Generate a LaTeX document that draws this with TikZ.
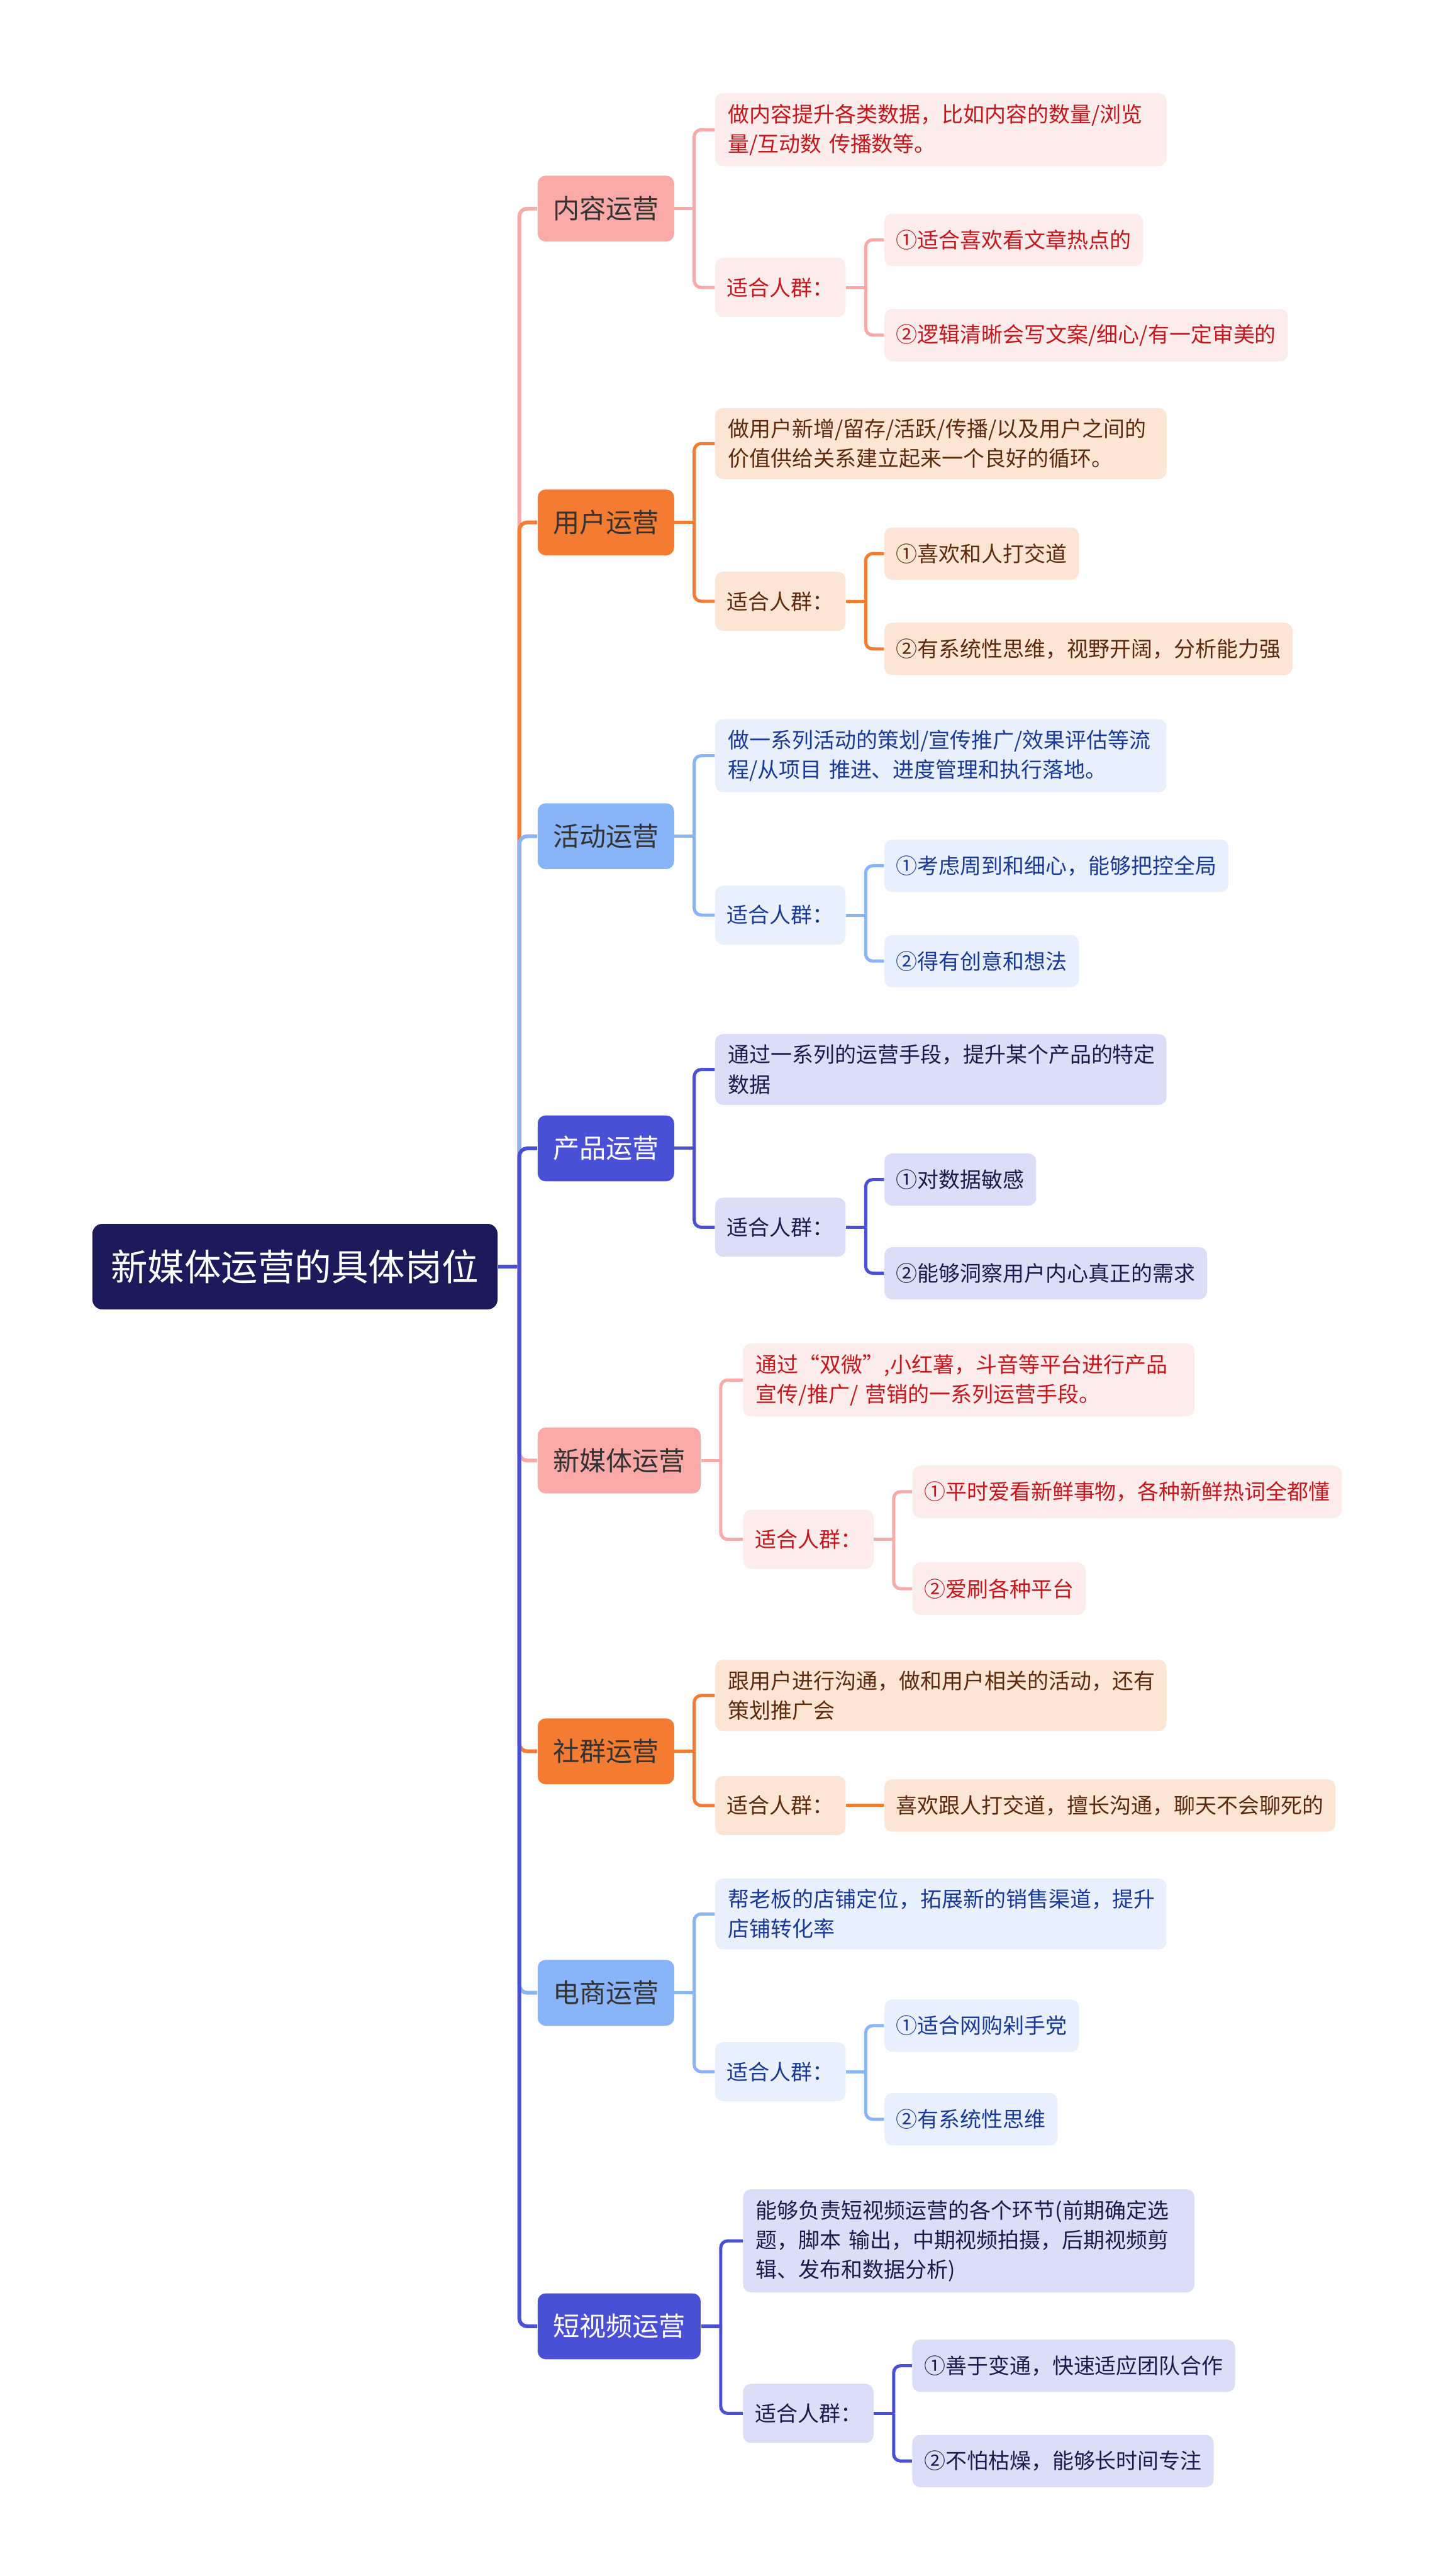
\documentclass[tikz,border=0pt]{standalone}
\usepackage{fontspec}
\setmainfont{Noto Sans CJK SC}
\usepackage{tikz}
\usetikzlibrary{positioning}

\definecolor{rootblue}{HTML}{1C1A5B}
\definecolor{darktext}{HTML}{333333}
\definecolor{pinkmain}{HTML}{F8A9A8}
\definecolor{pinklight}{HTML}{FDECEC}
\definecolor{pinktext}{HTML}{C8161D}
\definecolor{orangemain}{HTML}{F47B32}
\definecolor{orangelight}{HTML}{FDE5D6}
\definecolor{orangetext}{HTML}{5E2A0E}
\definecolor{skymain}{HTML}{8AB4F8}
\definecolor{skylight}{HTML}{E8F0FE}
\definecolor{skytext}{HTML}{1A3A9A}
\definecolor{indigomain}{HTML}{4A50D6}
\definecolor{indigolight}{HTML}{DCDEF7}
\definecolor{indigotext}{HTML}{1B1B4D}

\begin{document}
\begin{tikzpicture}[x=0.2919mm, y=-0.2919mm,
  rootbox/.style={rounded corners=5pt, fill=rootblue, text=white, font=\fontsize{18.6}{22}\selectfont, inner xsep=0.33cm, minimum height=1.52cm, anchor=west},
  topicbox/.style={rounded corners=4pt, text=darktext, font=\fontsize{13.4}{16}\selectfont, inner xsep=0.27cm, minimum height=1.17cm, anchor=west},
  descbox/.style={rounded corners=4pt, font=\fontsize{10.8}{15}\selectfont, text width=7.56cm, align=left, inner xsep=0.23cm, inner ysep=0.19cm, anchor=west},
  crowdbox/.style={rounded corners=4pt, font=\fontsize{10.8}{13}\selectfont, inner xsep=0.21cm, minimum height=1.05cm, anchor=west},
  itembox/.style={rounded corners=4pt, font=\fontsize{10.8}{13}\selectfont, inner xsep=0.21cm, minimum height=0.93cm, anchor=west},
  pinkleaf/.style={fill=pinklight, text=pinktext},
  orangeleaf/.style={fill=orangelight, text=orangetext},
  skyleaf/.style={fill=skylight, text=skytext},
  indigoleaf/.style={fill=indigolight, text=indigotext},
  trunk/.style={line width=1.9pt, rounded corners=4pt},
  twig/.style={line width=1.6pt, rounded corners=3.5pt}]
\path[use as bounding box, fill=white] (0,0) rectangle (877,1568);

\node[rootbox] (root) at (56,771) {新媒体运营的具体岗位};

% 内容运营
\node[topicbox, fill=pinkmain] (nr) at (327,127) {内容运营};
\node[descbox, pinkleaf] (nr-d) at (435,79) {做内容提升各类数据，比如内容的数量/浏览\\量/互动数 传播数等。};
\node[crowdbox, pinkleaf] (nr-c) at (435,175) {适合人群：};
\node[itembox, pinkleaf] (nr-1) at (538,146) {①适合喜欢看文章热点的};
\node[itembox, pinkleaf] (nr-2) at (538,204) {②逻辑清晰会写文案/细心/有一定审美的};

% 用户运营
\node[topicbox, fill=orangemain] (yh) at (327,318) {用户运营};
\node[descbox, orangeleaf] (yh-d) at (435,270) {做用户新增/留存/活跃/传播/以及用户之间的\\价值供给关系建立起来一个良好的循环。};
\node[crowdbox, orangeleaf] (yh-c) at (435,366) {适合人群：};
\node[itembox, orangeleaf] (yh-1) at (538,337) {①喜欢和人打交道};
\node[itembox, orangeleaf] (yh-2) at (538,395) {②有系统性思维，视野开阔，分析能力强};

% 活动运营
\node[topicbox, fill=skymain] (hd) at (327,509) {活动运营};
\node[descbox, skyleaf] (hd-d) at (435,460) {做一系列活动的策划/宣传推广/效果评估等流\\程/从项目 推进、进度管理和执行落地。};
\node[crowdbox, skyleaf] (hd-c) at (435,557) {适合人群：};
\node[itembox, skyleaf] (hd-1) at (538,527) {①考虑周到和细心，能够把控全局};
\node[itembox, skyleaf] (hd-2) at (538,585) {②得有创意和想法};

% 产品运营
\node[topicbox, fill=indigomain, text=white] (cp) at (327,699) {产品运营};
\node[descbox, indigoleaf] (cp-d) at (435,651) {通过一系列的运营手段，提升某个产品的特定\\数据};
\node[crowdbox, indigoleaf] (cp-c) at (435,747) {适合人群：};
\node[itembox, indigoleaf] (cp-1) at (538,718) {①对数据敏感};
\node[itembox, indigoleaf] (cp-2) at (538,775) {②能够洞察用户内心真正的需求};

% 新媒体运营
\node[topicbox, fill=pinkmain] (xm) at (327,889) {新媒体运营};
\node[descbox, pinkleaf] (xm-d) at (452,840) {通过“双微”,小红薯，斗音等平台进行产品\\宣传/推广/ 营销的一系列运营手段。};
\node[crowdbox, pinkleaf] (xm-c) at (452,937) {适合人群：};
\node[itembox, pinkleaf] (xm-1) at (555,908) {①平时爱看新鲜事物，各种新鲜热词全都懂};
\node[itembox, pinkleaf] (xm-2) at (555,967) {②爱刷各种平台};

% 社群运营
\node[topicbox, fill=orangemain] (sq) at (327,1066) {社群运营};
\node[descbox, orangeleaf] (sq-d) at (435,1032) {跟用户进行沟通，做和用户相关的活动，还有\\策划推广会};
\node[crowdbox, orangeleaf] (sq-c) at (435,1099) {适合人群：};
\node[itembox, orangeleaf] (sq-1) at (538,1099) {喜欢跟人打交道，擅长沟通，聊天不会聊死的};

% 电商运营
\node[topicbox, fill=skymain] (ds) at (327,1213) {电商运营};
\node[descbox, skyleaf] (ds-d) at (435,1165) {帮老板的店铺定位，拓展新的销售渠道，提升\\店铺转化率};
\node[crowdbox, skyleaf] (ds-c) at (435,1261) {适合人群：};
\node[itembox, skyleaf] (ds-1) at (538,1233) {①适合网购剁手党};
\node[itembox, skyleaf] (ds-2) at (538,1290) {②有系统性思维};

% 短视频运营
\node[topicbox, fill=indigomain, text=white] (dsp) at (327,1416) {短视频运营};
\node[descbox, indigoleaf] (dsp-d) at (452,1364) {能够负责短视频运营的各个环节(前期确定选\\题，脚本 输出，中期视频拍摄，后期视频剪\\辑、发布和数据分析)};
\node[crowdbox, indigoleaf] (dsp-c) at (452,1469) {适合人群：};
\node[itembox, indigoleaf] (dsp-1) at (555,1440) {①善于变通，快速适应团队合作};
\node[itembox, indigoleaf] (dsp-2) at (555,1498) {②不怕枯燥，能够长时间专注};

% connectors
\draw[trunk, indigomain] (root.east) -- ++(13,0) coordinate (hub);
\foreach \b/\col in {nr/pinkmain, yh/orangemain, hd/skymain, cp/indigomain, xm/pinkmain, sq/orangemain, ds/skymain, dsp/indigomain} {
  \draw[trunk, \col] (hub) |- (\b.west);
  \draw[twig, \col] (\b.east) -- ++(12,0) coordinate (\b-j);
  \draw[twig, \col] (\b-j) |- (\b-d.west);
  \draw[twig, \col] (\b-j) |- (\b-c.west);
}
\foreach \b/\col in {nr/pinkmain, yh/orangemain, hd/skymain, cp/indigomain, xm/pinkmain, ds/skymain, dsp/indigomain} {
  \draw[twig, \col] (\b-c.east) -- ++(12,0) coordinate (\b-k);
  \draw[twig, \col] (\b-k) |- (\b-1.west);
  \draw[twig, \col] (\b-k) |- (\b-2.west);
}
\draw[twig, orangemain] (sq-c.east) -- (sq-1.west);
\end{tikzpicture}
\end{document}
